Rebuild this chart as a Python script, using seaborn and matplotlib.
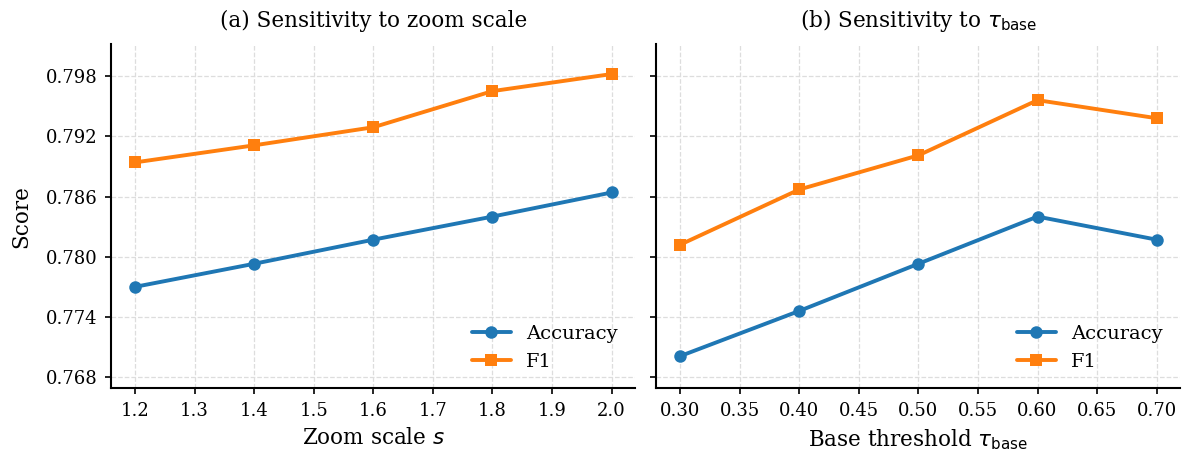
import numpy as np
import pandas as pd
import matplotlib
matplotlib.use("Agg")
import matplotlib.pyplot as plt
import seaborn as sns

# values
zoom_scales = [1.2, 1.4, 1.6, 1.8, 2.0]
zoom_acc = [0.7770, 0.7793, 0.7817, 0.7840, 0.7864]
zoom_f1 = [0.7894, 0.7911, 0.7929, 0.7965, 0.7982]

tau_base = [0.30, 0.40, 0.50, 0.60, 0.70]
tau_acc = [0.7701, 0.7746, 0.7793, 0.7840, 0.7817]
tau_f1 = [0.7812, 0.7867, 0.7901, 0.7956, 0.7938]

y_ticks = [0.768, 0.774, 0.780, 0.786, 0.792, 0.798]

sns.set_style("ticks")
plt.rcParams['font.family'] = ['DejaVu Serif']
plt.rcParams['mathtext.fontset'] = 'dejavusans'
# plain black text / axes like the reference
for key in ['text.color', 'axes.labelcolor', 'xtick.color', 'ytick.color', 'axes.edgecolor']:
    plt.rcParams[key] = 'black'
plt.rcParams['axes.linewidth'] = 1.5
plt.rcParams['xtick.major.width'] = 1.2
plt.rcParams['ytick.major.width'] = 1.2
plt.rcParams['xtick.major.size'] = 4.5
plt.rcParams['ytick.major.size'] = 4.5
plt.rcParams['xtick.major.pad'] = 5.5
plt.rcParams['ytick.major.pad'] = 5.5

fig, axes = plt.subplots(1, 2, figsize=(11.84, 4.53), dpi=100, sharey=True)


def draw_panel(ax, x, acc, f1):
    df = pd.DataFrame({'x': x, 'Accuracy': acc, 'F1': f1})
    sns.lineplot(data=df, x='x', y='Accuracy', ax=ax, color='#1f77b4',
                 marker='o', markersize=9, linewidth=2.8, markeredgewidth=0,
                 label='Accuracy')
    sns.lineplot(data=df, x='x', y='F1', ax=ax, color='#ff7f0e',
                 marker='s', markersize=9, linewidth=2.8, markeredgewidth=0,
                 label='F1')
    ax.grid(True, linestyle='--', color='#dddddd', linewidth=0.9)
    ax.set_axisbelow(True)
    ax.legend(loc='lower right', frameon=False, fontsize=14)
    ax.tick_params(labelsize=13)
    sns.despine(ax=ax)


draw_panel(axes[0], zoom_scales, zoom_acc, zoom_f1)
draw_panel(axes[1], tau_base, tau_acc, tau_f1)

# Left panel
axes[0].set_xticks(np.arange(1.2, 2.01, 0.1))
axes[0].set_xticklabels([f"{v:.1f}" for v in np.arange(1.2, 2.01, 0.1)])
axes[0].set_xlabel("Zoom scale $s$", fontsize=15.5, labelpad=5)
axes[0].set_ylabel("Score", fontsize=15.5, labelpad=10)
axes[0].set_title("(a) Sensitivity to zoom scale", fontsize=15.5, pad=12)

# Right panel
axes[1].set_xticks(np.arange(0.30, 0.701, 0.05))
axes[1].set_xticklabels([f"{v:.2f}" for v in np.arange(0.30, 0.701, 0.05)])
axes[1].set_xlabel(r"Base threshold $\tau_{\rm base}$", fontsize=15.5, labelpad=5)
axes[1].set_ylabel("")
axes[1].set_title(r"(b) Sensitivity to $\tau_{\rm base}$", fontsize=15.5, pad=12)

axes[0].set_yticks(y_ticks)
axes[0].set_yticklabels([f"{v:.3f}" for v in y_ticks])
axes[0].set_ylim(0.7669, 0.8012)

fig.subplots_adjust(left=0.094, right=0.997, top=0.903, bottom=0.143, wspace=0.04)
fig.savefig("out.png", dpi=100)
